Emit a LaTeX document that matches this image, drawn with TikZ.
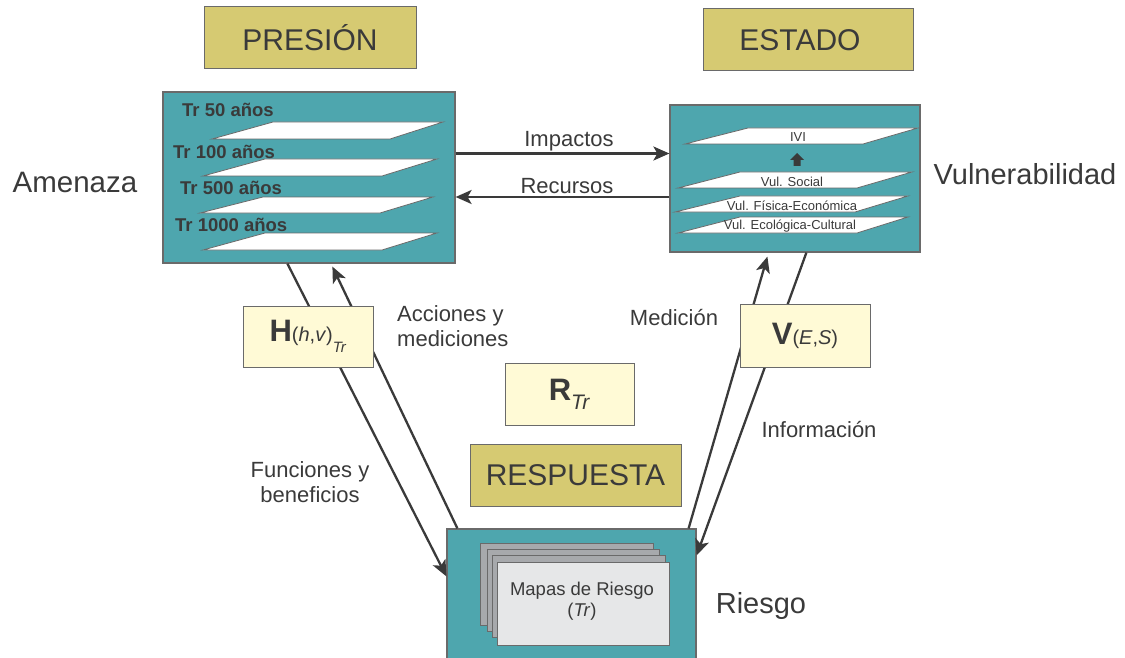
\documentclass[tikz,border=0pt]{standalone}
\usepackage{fontspec}
\setmainfont{Liberation Sans}
\usetikzlibrary{arrows.meta,calc}
\definecolor{tealbox}{HTML}{4EA6AE}
\definecolor{tanbox}{HTML}{D6CA72}
\definecolor{ylwbox}{HTML}{FFFAD6}
\definecolor{edgegray}{HTML}{6A6A6A}
\definecolor{txtgray}{HTML}{3A3A3A}
\definecolor{cardback}{HTML}{A7A9AC}
\definecolor{cardfront}{HTML}{E6E7E8}
\tikzset{
  fs/.style={font=\fontsize{#1}{#1}\selectfont},
  bigbox/.style={draw=edgegray, line width=1.2pt, fill=tealbox, inner sep=0pt},
  headbox/.style={draw=edgegray, line width=1pt, fill=tanbox, text=txtgray, fs=30, inner sep=0pt},
  symbox/.style={draw=edgegray, line width=0.8pt, fill=ylwbox, text=txtgray, inner sep=0pt},
  plane/.style={draw=edgegray, line width=0.8pt, fill=white},
  lbl/.style={text=txtgray, fs=22, inner sep=0pt},
  big/.style={text=txtgray, fs=29, inner sep=0pt},
  trlbl/.style={text=txtgray, font=\fontsize{18.5}{18.5}\selectfont\bfseries, anchor=west, inner sep=0pt},
  vlbl/.style={text=txtgray, fs=13, inner sep=0pt},
  conn/.style={draw=txtgray, line width=2.3pt, -{Stealth[length=16pt,width=14pt,inset=4pt]}},
  card/.style={draw=edgegray, line width=0.8pt},
}
\begin{document}
\begin{tikzpicture}[x=1pt,y=-1pt]
\useasboundingbox (0,0) rectangle (1125,658);

% header boxes
\node[headbox, minimum width=212pt, minimum height=62pt] (pres) at (310,38) {PRESIÓN};
\node[headbox, minimum width=210pt, minimum height=62pt] (est) at (808,40) {ESTADO\hspace*{16pt}};

% main boxes
\node[bigbox, minimum width=292pt, minimum height=171pt] (amen) at (309,177.5) {};
\node[bigbox, minimum width=250pt, minimum height=147pt] (vul) at (795,178.5) {};
\node[bigbox, minimum width=249pt, minimum height=132pt] (ries) at (571.5,595) {};

% Amenaza planes
\filldraw[plane] (273,122) -- (443,122) -- (390,139) -- (212,139) -- cycle;
\filldraw[plane] (265,159) -- (437,159) -- (382,176) -- (203,176) -- cycle;
\filldraw[plane] (263,197) -- (433,197) -- (380,213) -- (200,213) -- cycle;
\filldraw[plane] (265,233) -- (437,233) -- (382,250) -- (203,250) -- cycle;
\node[trlbl] (t50) at (182,110) {Tr 50 años};
\node[trlbl] (t100) at (173,152) {Tr 100 años};
\node[trlbl] (t500) at (180,188) {Tr 500 años};
\node[trlbl] (t1000) at (175,225) {Tr 1000 años};

% Vulnerabilidad planes
\filldraw[plane] (748,128) -- (918,128) -- (863,144) -- (685,144) -- cycle;
\filldraw[plane] (740,172) -- (912,172) -- (857,188) -- (678,188) -- cycle;
\filldraw[plane] (740,196) -- (908,196) -- (855,212) -- (675,212) -- cycle;
\filldraw[plane] (740,217) -- (908,217) -- (857,233) -- (678,233) -- cycle;
\node[vlbl] (ivi) at (798,137) {IVI};
\fill[txtgray] (797,153) -- (804,160) -- (800.5,160) -- (800.5,166) -- (793.5,166) -- (793.5,160) -- (790,160) -- cycle;
\node[vlbl] (vsoc) at (792,182) {Vul. Social};
\node[vlbl] (vfis) at (792,205.5) {Vul. Física-Económica};
\node[vlbl] (veco) at (790,226) {Vul. Ecológica-Cultural};

% Riesgo cards
\filldraw[card, fill=cardback] (480,543) rectangle (653,625);
\filldraw[card, fill=cardback] (487,549) rectangle (659,631);
\filldraw[card, fill=cardback] (492,555) rectangle (665,637);
\filldraw[card, fill=cardfront] (497,562) rectangle (669,645);
\node[text=txtgray, fs=18.5, inner sep=0pt, align=center] (mapas) at (582,601) {Mapas de Riesgo\\[2pt](\textit{Tr})};

% side labels
\node[big, fs=29.5] (amenl) at (75,182) {Amenaza};
\node[big] (vull) at (1025,174) {Vulnerabilidad};
\node[big] (riesl) at (761,606) {Riesgo};

% horizontal connectors
\draw[conn] ([yshift=24pt]amen.east) -- ([yshift=25pt]vul.west);
\draw[conn] ([yshift=-18.5pt]vul.west) -- ([yshift=-19.5pt]amen.east);
\node[lbl] (imp) at (569,141) {Impactos};
\node[lbl] (rec) at (567,186) {Recursos};

% left diagonal connectors
\draw[conn] ($(amen.south west)+(125,0)$) -- ($(ries.north west)+(0,48)$);
\draw[conn] ($(ries.north west)+(11,0)$) -- ($(amen.south west)+(170,3)$);
% right diagonal connectors
\draw[conn] ($(ries.north east)+(-8,0)$) -- ($(vul.south west)+(98,4)$);
\draw[conn] ($(vul.south west)+(137,0)$) -- ($(ries.north east)+(0,27)$);

% symbol boxes (on top of lines)
\node[symbox, minimum width=130pt, minimum height=61pt] (hbox) at (308,336.5)
  {{\fontsize{31}{31}\selectfont\bfseries H}{\fontsize{20}{20}\selectfont(\textit{h},\textit{v})}\raisebox{-11pt}{\fontsize{15}{15}\selectfont\textit{Tr}}};
\node[symbox, minimum width=130pt, minimum height=63pt] (vbox) at (805,335.5)
  {{\fontsize{31}{31}\selectfont\bfseries V}{\fontsize{20}{20}\selectfont(\textit{E},\textit{S})}};
\node[symbox, minimum width=129pt, minimum height=62pt] (rbox) at (569.5,394)
  {{\fontsize{31}{31}\selectfont\bfseries R}\raisebox{-9pt}{\fontsize{21}{21}\selectfont\textit{Tr}}};
\node[headbox, minimum width=211pt, minimum height=62pt] (resp) at (575.5,475) {RESPUESTA};

% connector labels
\node[lbl, align=left, anchor=west] (acc) at (397,326) {Acciones y\\[3pt]mediciones};
\node[lbl, align=center] (fun) at (310,482) {Funciones y\\[3pt]beneficios};
\node[lbl] (med) at (674,318) {Medición};
\node[lbl] (inf) at (819,430) {Información};
\end{tikzpicture}
\end{document}
